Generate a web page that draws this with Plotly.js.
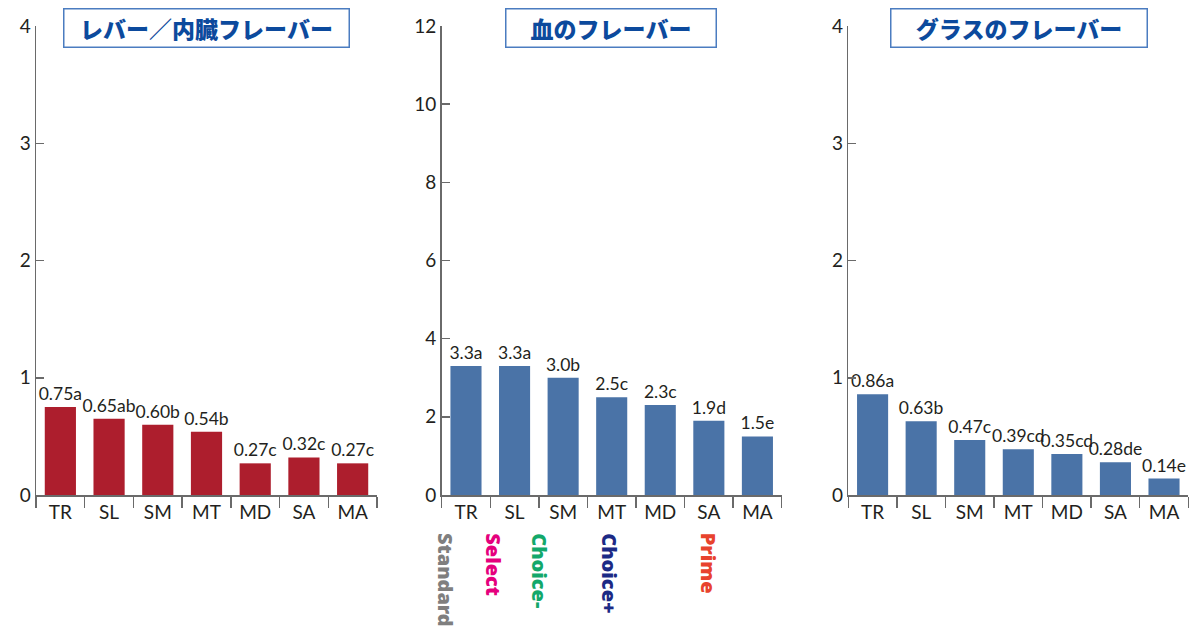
<!DOCTYPE html>
<html>
<head>
<meta charset="utf-8">
<script src="https://cdn.plot.ly/plotly-3.0.1.min.js"></script>
<style>
  html, body { margin: 0; padding: 0; background: #ffffff; }
  #chart { width: 1192px; height: 634px; }
</style>
</head>
<body>
<div id="chart"></div>
<script>
// Beef grades on the category axis
const categories = ['TR', 'SL', 'SM', 'MT', 'MD', 'SA', 'MA'];

// Liver / organ flavor
const liverValues = [0.75, 0.65, 0.60, 0.54, 0.27, 0.32, 0.27];
const liverLetters = ['a', 'ab', 'b', 'b', 'c', 'c', 'c'];

// Bloody flavor
const bloodValues = [3.3, 3.3, 3.0, 2.5, 2.3, 1.9, 1.5];
const bloodLetters = ['a', 'a', 'b', 'c', 'c', 'd', 'e'];

// Grassy flavor
const grassValues = [0.86, 0.63, 0.47, 0.39, 0.35, 0.28, 0.14];
const grassLetters = ['a', 'b', 'c', 'cd', 'cd', 'de', 'e'];

const panelTitles = ['レバー／内臓フレーバー', '血のフレーバー', 'グラスのフレーバー'];
const liverTicks = [0, 1, 2, 3, 4];
const bloodTicks = [0, 2, 4, 6, 8, 10, 12];
const grassTicks = [0, 1, 2, 3, 4];
const gradeNames = ['Standard', 'Select', 'Choice-', 'Choice+', 'Prime'];

// ---- styling / layout ----
const W = 1192, H = 634;
const TOP = 26, BOTTOM = 495;             // pixel rows of the plotting area
const PLOT_H = BOTTOM - TOP;
const FONT = 'Lato, "Noto Sans", "Noto Sans CJK JP", sans-serif';
const TEXT_DARK = '#231f20';
const AXIS_GREY = '#6a6a6a';
const RED = '#ad1e2d';
const BLUE = '#4a73a7';

const px = v => v / W;
const py = v => (BOTTOM - v) / PLOT_H;

const panels = [
  { values: liverValues, letters: liverLetters, digits: 2, color: RED,  ticks: liverTicks, max: 4,  x0: 36,    x1: 377 },
  { values: bloodValues, letters: bloodLetters, digits: 1, color: BLUE, ticks: bloodTicks, max: 12, x0: 441.7, x1: 781.7 },
  { values: grassValues, letters: grassLetters, digits: 2, color: BLUE, ticks: grassTicks, max: 4,  x0: 848.3, x1: 1188.3 }
];

const titleBoxes = [
  { cx: 206,    w: 286 },
  { cx: 610.5,  w: 211 },
  { cx: 1018.5, w: 257 }
];

// grade label anchors along the middle panel's category axis
const gradeX = [-0.41, 0.56, 1.51, 2.96, 5.0];
const gradeColors = ['#7f7f7f', '#e5007d', '#13a86a', '#1c2a85', '#e8432d'];

const traces = [];
const layout = {
  width: W, height: H,
  margin: { l: 0, r: 0, t: TOP, b: H - BOTTOM, pad: 0 },
  paper_bgcolor: '#ffffff',
  plot_bgcolor: '#ffffff',
  showlegend: false,
  bargap: 0.36,
  font: { family: FONT, color: TEXT_DARK },
  annotations: []
};

panels.forEach((p, i) => {
  const n = i === 0 ? '' : String(i + 1);
  traces.push({
    type: 'bar',
    x: categories,
    y: p.values,
    xaxis: 'x' + n,
    yaxis: 'y' + n,
    marker: { color: p.color, line: { width: 0 } },
    text: p.values.map((v, k) => v.toFixed(p.digits) + p.letters[k]),
    textposition: 'outside',
    constraintext: 'none',
    cliponaxis: false,
    textfont: { family: FONT, size: 17.5, color: TEXT_DARK },
    hoverinfo: 'x+y'
  });

  layout['xaxis' + n] = {
    domain: [px(p.x0), px(p.x1)],
    anchor: 'y' + n,
    type: 'category',
    range: [-0.5, categories.length - 0.5],
    autorange: false,
    showline: true, linecolor: AXIS_GREY, linewidth: 1.5,
    ticks: 'outside', tickson: 'boundaries', ticklen: 11,
    tickcolor: AXIS_GREY, tickwidth: 1.5,
    tickfont: { family: FONT, size: 19, color: TEXT_DARK },
    showgrid: false, zeroline: false, fixedrange: true
  };
  layout['yaxis' + n] = {
    domain: [0, 1],
    anchor: 'x' + n,
    range: [0, p.max],
    autorange: false,
    tickvals: p.ticks,
    ticktext: p.ticks.map(String),
    showline: true, linecolor: AXIS_GREY, linewidth: 1.5,
    ticks: 'inside', ticklen: 8, tickcolor: AXIS_GREY, tickwidth: 1.5,
    tickfont: { family: FONT, size: 19, color: TEXT_DARK },
    showgrid: false, zeroline: false, fixedrange: true
  };

  const box = titleBoxes[i];
  layout.annotations.push({
    xref: 'paper', yref: 'paper',
    x: px(box.cx), y: py(28.5),
    xanchor: 'center', yanchor: 'middle',
    text: panelTitles[i],
    showarrow: false,
    font: { family: '"Noto Sans CJK JP", sans-serif', size: 23, weight: 900, color: '#0c4a9d' },
    width: box.w - 2, height: 37,
    align: 'center', valign: 'middle',
    bordercolor: '#4b7cc0', borderwidth: 1.5, borderpad: 0,
    bgcolor: '#ffffff'
  });
});

gradeNames.forEach((g, k) => {
  layout.annotations.push({
    xref: 'x2', yref: 'paper',
    x: gradeX[k], y: py(531),
    xanchor: 'center', yanchor: 'top',
    textangle: 90,
    text: g,
    showarrow: false,
    font: { family: '"Noto Sans", Lato, sans-serif', size: 20, weight: 900, color: gradeColors[k] }
  });
});

Plotly.newPlot('chart', traces, layout, { displayModeBar: false, staticPlot: true });
</script>
</body>
</html>
